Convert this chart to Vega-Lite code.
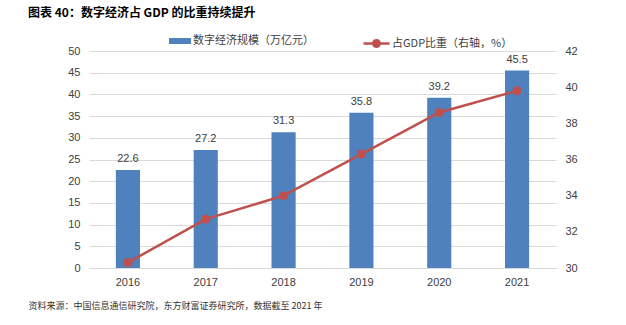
{
  "$schema": "https://vega.github.io/schema/vega-lite/v6.json",
  "width": 467,
  "height": 217,
  "autosize": "none",
  "padding": {"left": 89, "top": 51, "right": 70, "bottom": 57},
  "background": "white",
  "config": {
    "view": {"stroke": null},
    "font": "Noto Sans CJK SC",
    "axis": {"labelFont": "Liberation Sans", "labelFontSize": 11, "labelColor": "#404040", "ticks": false, "domain": false, "grid": false, "labelOverlap": false},
    "legend": {"labelFont": "Noto Sans CJK SC", "labelFontSize": 11, "labelColor": "#404040"}
  },
  "title": {
    "text": "图表 40：数字经济占 GDP 的比重持续提升",
    "anchor": "start",
    "frame": "group",
    "dx": -61,
    "offset": 9,
    "fontSize": 12,
    "fontWeight": "bold",
    "color": "#000000",
    "font": "Noto Sans CJK SC"
  },
  "data": {
    "values": [
      {"year": "2016", "scale": 22.6, "pct": 30.3},
      {"year": "2017", "scale": 27.2, "pct": 32.7},
      {"year": "2018", "scale": 31.3, "pct": 34.0},
      {"year": "2019", "scale": 35.8, "pct": 36.3},
      {"year": "2020", "scale": 39.2, "pct": 38.6},
      {"year": "2021", "scale": 45.5, "pct": 39.8}
    ]
  },
  "encoding": {
    "x": {
      "field": "year",
      "type": "nominal",
      "scale": {"paddingInner": 0.69, "paddingOuter": 0.345},
      "axis": {
        "labelAngle": 0,
        "labelPadding": 8,
        "domain": true,
        "domainColor": "#D9D9D9",
        "title": "资料来源：中国信息通信研究院，东方财富证券研究所，数据截至 2021 年",
        "titleAnchor": "start",
        "titleX": -61,
        "titleY": 37,
        "titleBaseline": "middle",
        "titleFontSize": 9,
        "titleFontWeight": "normal",
        "titleColor": "#333333",
        "titleFont": "Noto Sans CJK SC"
      }
    }
  },
  "layer": [
    {
      "encoding": {
        "y": {
          "field": "scale",
          "type": "quantitative",
          "scale": {"domain": [0, 50]},
          "axis": {"values": [0, 5, 10, 15, 20, 25, 30, 35, 40, 45, 50], "grid": true, "gridColor": "#D9D9D9", "labelPadding": 9, "title": null}
        }
      },
      "layer": [
        {
          "mark": {"type": "bar"},
          "encoding": {
            "color": {
              "datum": "数字经济规模（万亿元）",
              "type": "nominal",
              "scale": {"range": ["#4F81BD"]},
              "legend": {
                "orient": "none",
                "legendX": 79,
                "legendY": -22,
                "title": null,
                "symbolType": "M-1,-0.27H1V0.27H-1Z",
                "symbolSize": 484,
                "labelOffset": 1
              }
            }
          }
        },
        {
          "mark": {"type": "text", "dy": -11, "font": "Liberation Sans", "fontSize": 11, "color": "#404040"},
          "encoding": {
            "text": {"field": "scale", "type": "quantitative", "format": ".1f"}
          }
        }
      ]
    },
    {
      "mark": {"type": "line", "strokeWidth": 2.5, "point": {"filled": true, "size": 50, "color": "#C0504D"}},
      "encoding": {
        "y": {
          "field": "pct",
          "type": "quantitative",
          "scale": {"domain": [30, 42]},
          "axis": {"orient": "right", "values": [30, 32, 34, 36, 38, 40, 42], "labelPadding": 9, "title": null}
        },
        "stroke": {
          "datum": "占GDP比重（右轴，%）",
          "type": "nominal",
          "scale": {"range": ["#C0504D"]},
          "legend": {
            "orient": "none",
            "legendX": 273,
            "legendY": -22,
            "title": null,
            "symbolType": "M-1,0H1M-0.25,0A0.25,0.25,0,1,0,0.25,0A0.25,0.25,0,1,0,-0.25,0Z",
            "symbolSize": 676,
            "symbolStrokeWidth": 2.5,
            "symbolFillColor": "#C0504D",
            "labelOffset": 1
          }
        }
      }
    }
  ],
  "resolve": {"scale": {"y": "independent", "color": "independent"}}
}
